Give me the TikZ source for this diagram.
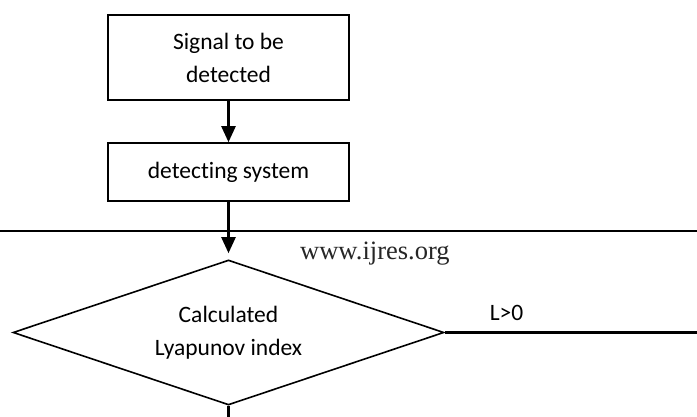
\documentclass[tikz,border=0pt]{standalone}
\usepackage{fontspec}
\setmainfont{Carlito}[Ligatures={NoCommon}]
\newfontfamily\timesfont{Liberation Serif}
\usetikzlibrary{shapes.geometric,arrows.meta}
\tikzset{
  procbox/.style={draw=black, line width=1.6pt, rectangle, minimum width=241pt, inner sep=0pt, align=center, font=\fontsize{23.5}{33}\selectfont},
  decision/.style={draw=black, line width=1.6pt, diamond, aspect=2.97, minimum width=431pt, minimum height=145pt, inner sep=0pt, align=center, font=\fontsize{23.5}{33}\selectfont},
  flow/.style={line width=2.4pt, -{Triangle[length=16pt,width=14pt]}},
  plainline/.style={line width=2.2pt},
  rule/.style={line width=2.2pt},
}
\begin{document}
\begin{tikzpicture}[x=1pt,y=-1pt]
\useasboundingbox (0,0) rectangle (697,417);
\node[procbox, minimum height=85pt] (sig) at (228.5,57.5) {Signal to be\\detected};
\node[procbox, minimum height=58pt] (det) at (228.5,172) {detecting system};
\node[decision] (lya) at (228.5,332.5) {Calculated\\Lyapunov index};
\coordinate (ruleL) at (0,231);
\coordinate (ruleR) at (697,231);
\coordinate (rightEnd) at (697,332.5);
\coordinate (bottomEnd) at (228.5,417);
\draw[rule] (ruleL) -- (ruleR);
\draw[flow] (sig.south) -- (det.north);
\draw[flow, shorten >=6pt] (det.south) -- (lya.north);
\draw[plainline] (lya.east) -- (rightEnd);
\draw[plainline] (lya.south) -- (bottomEnd);
\node[font=\fontsize{23.5}{28}\selectfont, anchor=base] (lbl) at (506.5,320) {L>0};
\node[font=\timesfont\fontsize{26.5}{30}\selectfont, text=black!85, anchor=base west, inner sep=0pt] (url) at (300,260) {www.ijres.org};
\end{tikzpicture}
\end{document}
